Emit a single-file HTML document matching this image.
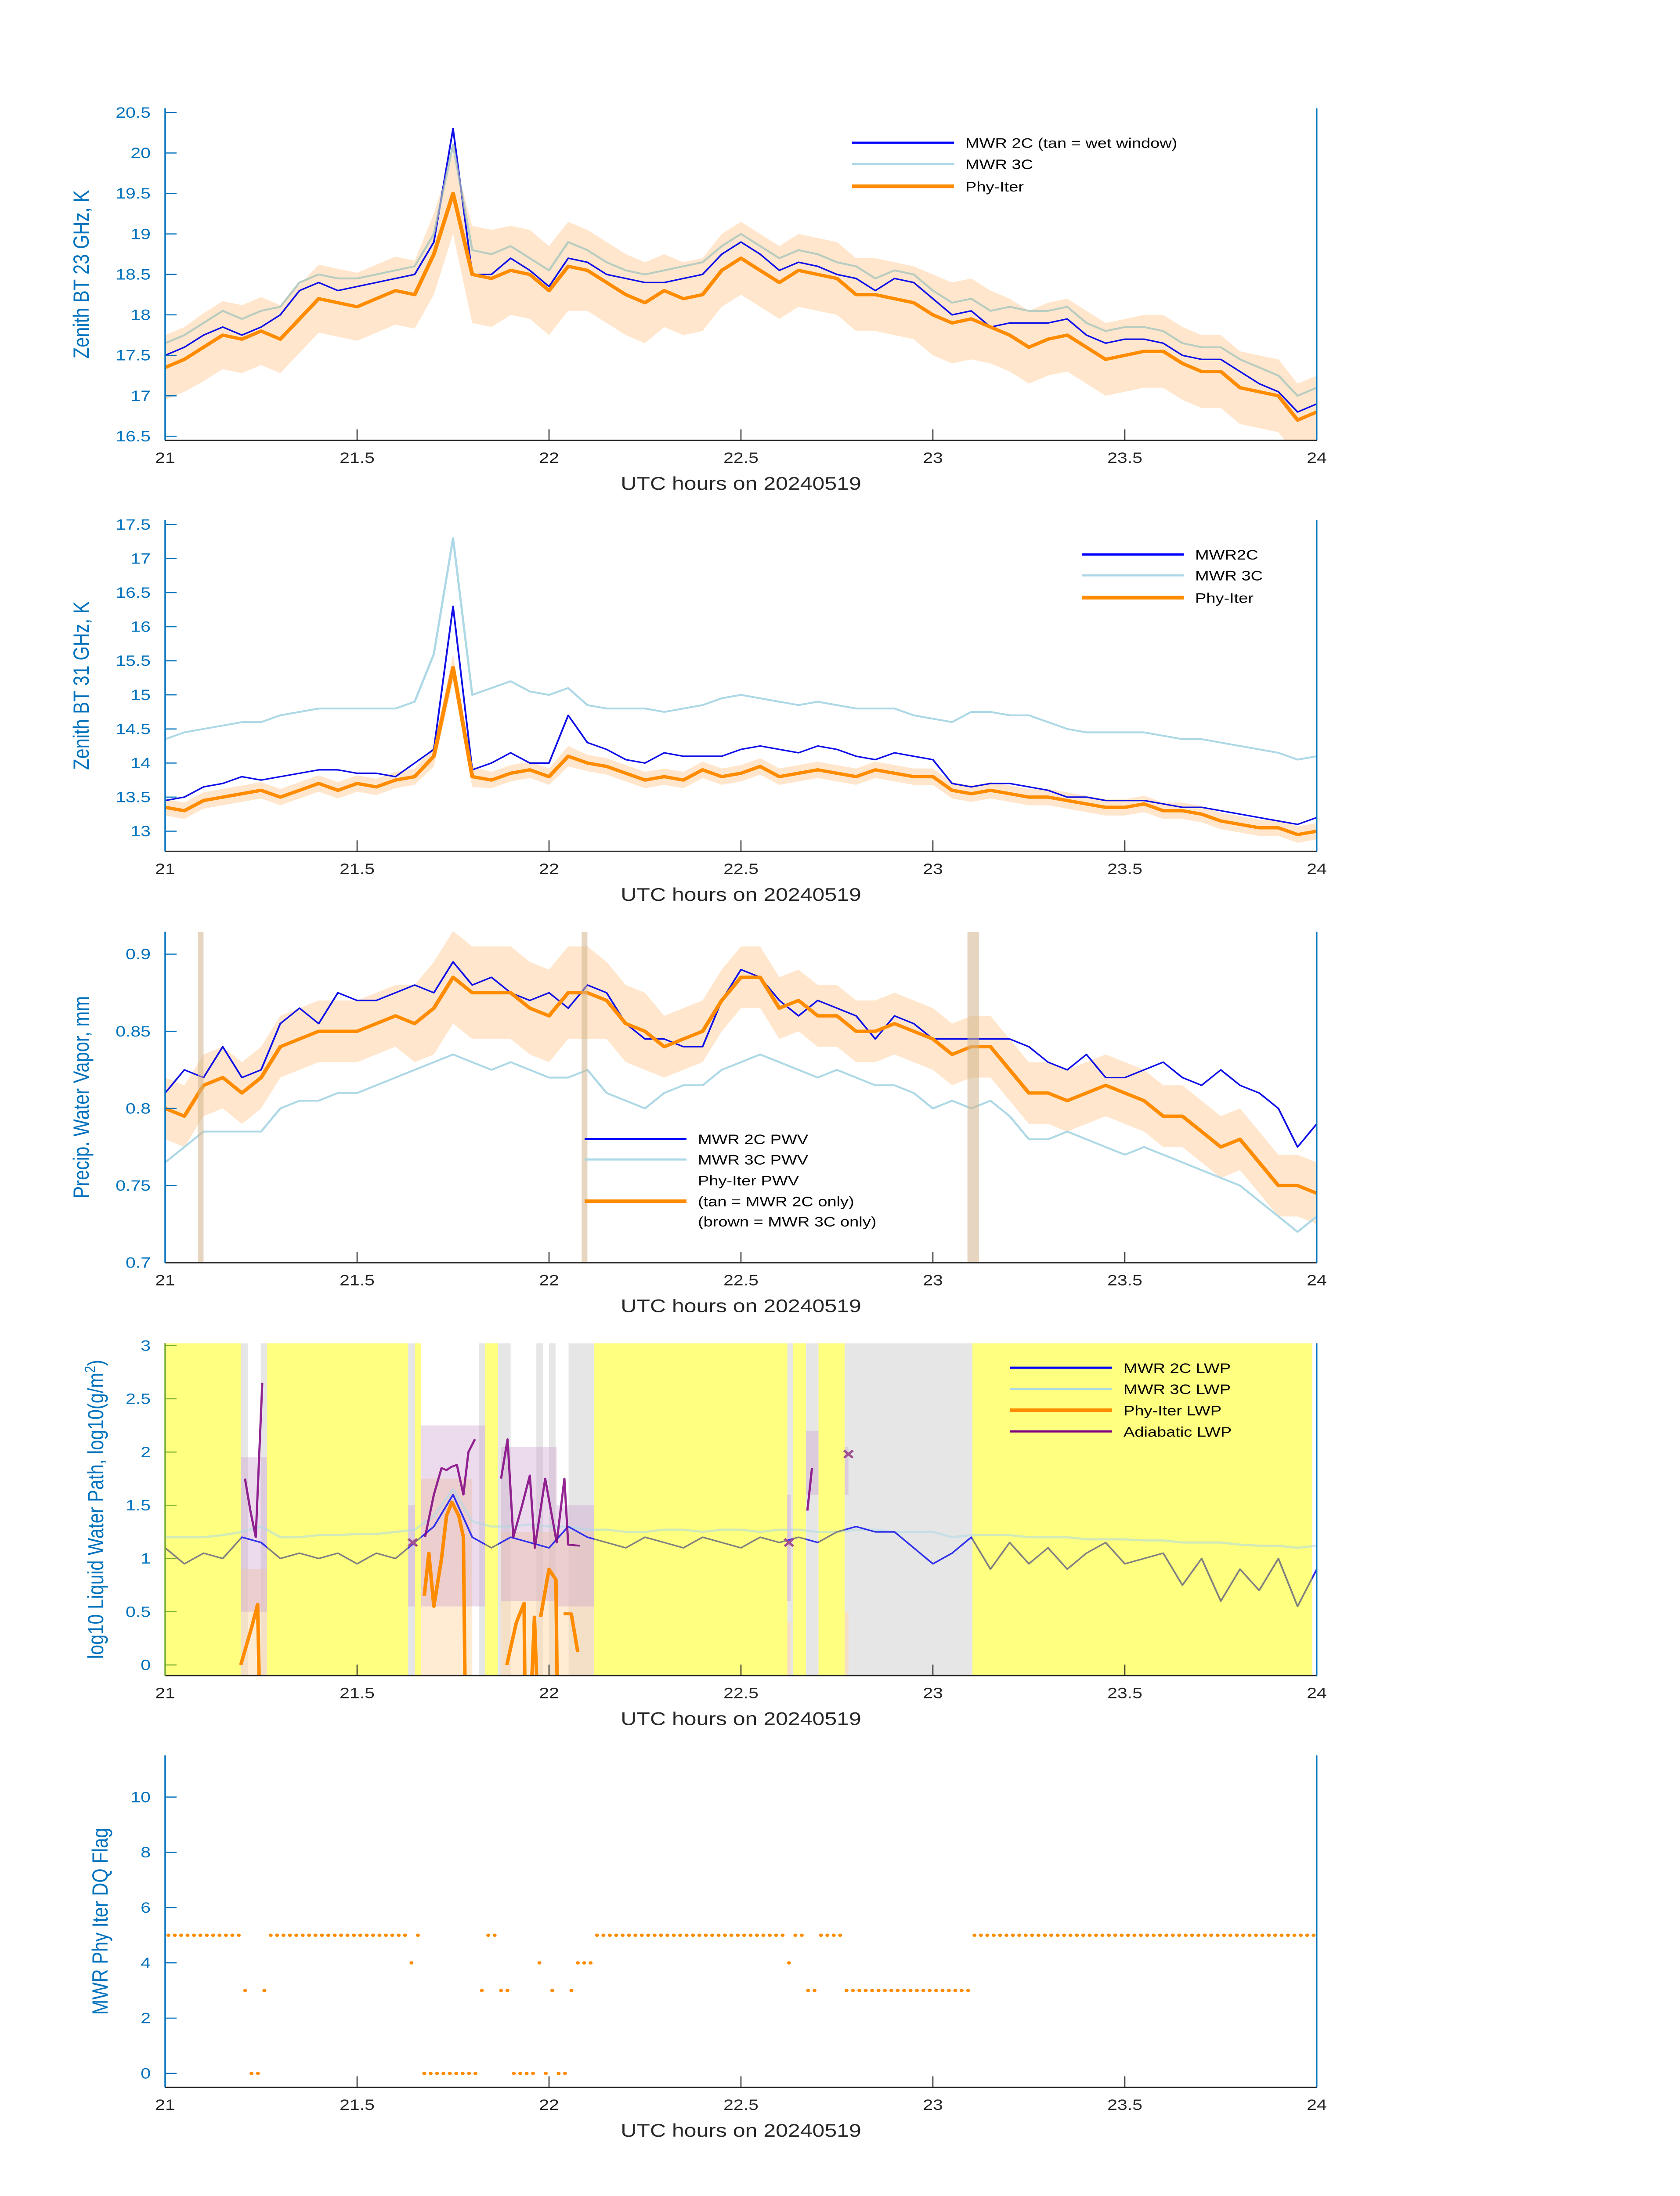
<!DOCTYPE html>
<html><head><meta charset="utf-8"><title>MWR 20240519</title>
<style>
html,body{margin:0;padding:0;background:#fff;width:100%;height:100%;overflow:hidden;}
svg{display:block;position:absolute;left:0;top:0;width:100vw;height:100vh;font-family:"Liberation Sans",sans-serif;}
</style></head>
<body>
<svg id="fig" xmlns="http://www.w3.org/2000/svg" viewBox="0 0 3825 6000" preserveAspectRatio="none">
<rect x="0" y="0" width="3825" height="6000" fill="#ffffff"/>
</svg>
<script>
// ---------- data ----------
const times = [21.00,21.05,21.10,21.15,21.20,21.25,21.30,21.35,21.40,21.45,21.50,21.55,21.60,21.65,21.70,21.75,21.80,21.85,21.90,21.95,22.00,22.05,22.10,22.15,22.20,22.25,22.30,22.35,22.40,22.45,22.50,22.55,22.60,22.65,22.70,22.75,22.80,22.85,22.90,22.95,23.00,23.05,23.10,23.15,23.20,23.25,23.30,23.35,23.40,23.45,23.50,23.55,23.60,23.65,23.70,23.75,23.80,23.85,23.90,23.95,24.00];
const xTicks = [21,21.5,22,22.5,23,23.5,24];
const xTickLabels = ["21","21.5","22","22.5","23","23.5","24"];

const bt23_2c = [17.5,17.6,17.75,17.85,17.75,17.85,18.0,18.3,18.4,18.3, 18.35,18.4,18.45,18.5,18.9,20.3,18.5,18.5,18.7,18.55, 18.35,18.7,18.65,18.5,18.45,18.4,18.4,18.45,18.5,18.75, 18.9,18.75,18.55,18.65,18.6,18.5,18.45,18.3,18.45,18.4, 18.2,18.0,18.05,17.85,17.9,17.9,17.9,17.95,17.75,17.65, 17.7,17.7,17.65,17.5,17.45,17.45,17.3,17.15,17.05,16.8,16.9];
const bt23_3c = [17.65,17.75,17.9,18.05,17.95,18.05,18.1,18.4,18.5,18.45, 18.45,18.5,18.55,18.6,19.0,20.1,18.8,18.75,18.85,18.7, 18.55,18.9,18.8,18.65,18.55,18.5,18.55,18.6,18.65,18.85, 19.0,18.85,18.7,18.8,18.75,18.65,18.6,18.45,18.55,18.5, 18.3,18.15,18.2,18.05,18.1,18.05,18.05,18.1,17.9,17.8, 17.85,17.85,17.8,17.65,17.6,17.6,17.45,17.35,17.25,17.0,17.1];
const bt23_phy = [17.35,17.45,17.6,17.75,17.7,17.8,17.7,17.95,18.2,18.15, 18.1,18.2,18.3,18.25,18.75,19.5,18.5,18.45,18.55,18.5, 18.3,18.6,18.55,18.4,18.25,18.15,18.3,18.2,18.25,18.55, 18.7,18.55,18.4,18.55,18.5,18.45,18.25,18.25,18.2,18.15, 18.0,17.9,17.95,17.85,17.75,17.6,17.7,17.75,17.6,17.45, 17.5,17.55,17.55,17.4,17.3,17.3,17.1,17.05,17.0,16.7,16.8];
const bt23_unc = [0.4,0.4,0.42,0.42,0.42,0.42,0.42,0.42,0.42,0.42, 0.42,0.42,0.42,0.42,0.5,0.5,0.6,0.6,0.55,0.55, 0.55,0.55,0.5,0.5,0.5,0.5,0.45,0.45,0.45,0.45, 0.45,0.45,0.45,0.45,0.45,0.45,0.45,0.45,0.45,0.45, 0.5,0.5,0.5,0.45,0.45,0.45,0.45,0.45,0.45,0.45, 0.45,0.45,0.45,0.45,0.45,0.45,0.45,0.45,0.45,0.45,0.45];
const bt23_ticks = [16.5,17,17.5,18,18.5,19,19.5,20,20.5];

const bt31_2c = [13.45,13.5,13.65,13.7,13.8,13.75,13.8,13.85,13.9,13.9, 13.85,13.85,13.8,14.0,14.2,16.3,13.9,14.0,14.15,14.0, 14.0,14.7,14.3,14.2,14.05,14.0,14.15,14.1,14.1,14.1, 14.2,14.25,14.2,14.15,14.25,14.2,14.1,14.05,14.15,14.1, 14.05,13.7,13.65,13.7,13.7,13.65,13.6,13.5,13.5,13.45, 13.45,13.45,13.4,13.35,13.35,13.3,13.25,13.2,13.15,13.1,13.2];
const bt31_3c = [14.35,14.45,14.5,14.55,14.6,14.6,14.7,14.75,14.8,14.8, 14.8,14.8,14.8,14.9,15.6,17.3,15.0,15.1,15.2,15.05, 15.0,15.1,14.85,14.8,14.8,14.8,14.75,14.8,14.85,14.95, 15.0,14.95,14.9,14.85,14.9,14.85,14.8,14.8,14.8,14.7, 14.65,14.6,14.75,14.75,14.7,14.7,14.6,14.5,14.45,14.45, 14.45,14.45,14.4,14.35,14.35,14.3,14.25,14.2,14.15,14.05,14.1];
const bt31_phy = [13.35,13.3,13.45,13.5,13.55,13.6,13.5,13.6,13.7,13.6, 13.7,13.65,13.75,13.8,14.1,15.4,13.8,13.75,13.85,13.9, 13.8,14.1,14.0,13.95,13.85,13.75,13.8,13.75,13.9,13.8, 13.85,13.95,13.8,13.85,13.9,13.85,13.8,13.9,13.85,13.8, 13.8,13.6,13.55,13.6,13.55,13.5,13.5,13.45,13.4,13.35, 13.35,13.4,13.3,13.3,13.25,13.15,13.1,13.05,13.05,12.95,13.0];
const bt31_unc = [0.12,0.12,0.12,0.12,0.12,0.12,0.12,0.12,0.12,0.12, 0.12,0.12,0.12,0.12,0.15,0.2,0.15,0.12,0.12,0.12, 0.12,0.15,0.12,0.12,0.12,0.12,0.12,0.12,0.12,0.12, 0.12,0.12,0.12,0.12,0.12,0.12,0.12,0.12,0.12,0.12, 0.12,0.12,0.12,0.12,0.12,0.12,0.12,0.12,0.12,0.12, 0.12,0.12,0.12,0.12,0.12,0.12,0.12,0.12,0.12,0.12,0.12];
const bt31_ticks = [13,13.5,14,14.5,15,15.5,16,16.5,17,17.5];

const pwv_2c = [0.81,0.825,0.82,0.84,0.82,0.825,0.855,0.865,0.855,0.875, 0.87,0.87,0.875,0.88,0.875,0.895,0.88,0.885,0.875,0.87, 0.875,0.865,0.88,0.875,0.855,0.845,0.845,0.84,0.84,0.87, 0.89,0.885,0.87,0.86,0.87,0.865,0.86,0.845,0.86,0.855, 0.845,0.845,0.845,0.845,0.845,0.84,0.83,0.825,0.835,0.82, 0.82,0.825,0.83,0.82,0.815,0.825,0.815,0.81,0.8,0.775,0.79];
const pwv_3c = [0.765,0.775,0.785,0.785,0.785,0.785,0.8,0.805,0.805,0.81, 0.81,0.815,0.82,0.825,0.83,0.835,0.83,0.825,0.83,0.825, 0.82,0.82,0.825,0.81,0.805,0.8,0.81,0.815,0.815,0.825, 0.83,0.835,0.83,0.825,0.82,0.825,0.82,0.815,0.815,0.81, 0.8,0.805,0.8,0.805,0.795,0.78,0.78,0.785,0.78,0.775, 0.77,0.775,0.77,0.765,0.76,0.755,0.75,0.74,0.73,0.72,0.73];
const pwv_phy = [0.8,0.795,0.815,0.82,0.81,0.82,0.84,0.845,0.85,0.85, 0.85,0.855,0.86,0.855,0.865,0.885,0.875,0.875,0.875,0.865, 0.86,0.875,0.875,0.87,0.855,0.85,0.84,0.845,0.85,0.87, 0.885,0.885,0.865,0.87,0.86,0.86,0.85,0.85,0.855,0.85, 0.845,0.835,0.84,0.84,0.825,0.81,0.81,0.805,0.81,0.815, 0.81,0.805,0.795,0.795,0.785,0.775,0.78,0.765,0.75,0.75,0.745];
const pwv_unc = [0.02,0.02,0.02,0.02,0.02,0.02,0.02,0.02,0.02,0.02, 0.02,0.02,0.02,0.025,0.03,0.03,0.03,0.03,0.03,0.03, 0.03,0.03,0.03,0.025,0.025,0.025,0.02,0.02,0.02,0.02, 0.02,0.02,0.02,0.02,0.02,0.02,0.02,0.02,0.02,0.02, 0.02,0.02,0.02,0.02,0.02,0.02,0.02,0.02,0.02,0.02, 0.02,0.02,0.02,0.02,0.02,0.02,0.02,0.02,0.02,0.02,0.02];
const pwv_ticks = [0.7,0.75,0.8,0.85,0.9];
const pwvBarStart = [21.085,22.085,23.09];
const pwvBarEnd   = [21.10,22.10,23.12];

const lwp2c = [1.1,0.95,1.05,1.0,1.2,1.15,1.0,1.05,1.0,1.05, 0.95,1.05,1.0,1.15,1.3,1.6,1.2,1.1,1.2,1.15, 1.1,1.3,1.2,1.15,1.1,1.2,1.15,1.1,1.2,1.15, 1.1,1.2,1.15,1.2,1.15,1.25,1.3,1.25,1.25,1.1, 0.95,1.05,1.2,0.9,1.15,0.95,1.1,0.9,1.05,1.15, 0.95,1.0,1.05,0.75,1.0,0.6,0.9,0.7,1.0,0.55,0.9];
const lwp3c = [1.2,1.2,1.2,1.22,1.25,1.3,1.2,1.2,1.22,1.22, 1.23,1.23,1.25,1.27,1.4,1.65,1.35,1.3,1.3,1.32, 1.3,1.3,1.27,1.27,1.25,1.25,1.27,1.27,1.25,1.27, 1.27,1.25,1.27,1.27,1.25,1.25,1.27,1.27,1.25,1.25, 1.25,1.2,1.22,1.22,1.22,1.2,1.2,1.2,1.18,1.18, 1.18,1.17,1.17,1.15,1.15,1.15,1.13,1.12,1.12,1.1,1.12];
const phyT = [21.197,21.225,21.241,21.245,null,21.675,21.687,21.70,21.72,21.733,21.747,21.765,21.777,21.781,null,21.89,21.915,21.935,21.937,null,21.955,21.962,21.968,null,21.978,22.0,22.018,22.021,null,22.038,22.058,22.075];
const phyV = [0,0.35,0.57,-0.15,null,0.65,1.05,0.55,1.0,1.4,1.53,1.4,1.2,-0.15,null,0,0.4,0.58,-0.15,null,-0.15,0.45,-0.15,null,0.45,0.9,0.8,-0.15,null,0.48,0.48,0.12];
const adT = [21.208,21.222,21.236,21.253,null,21.677,21.70,21.72,21.733,21.745,21.76,21.777,21.79,21.807,null,21.875,21.892,21.907,21.93,21.95,21.963,21.99,22.02,22.04,22.05,22.08,null,22.673,22.685];
const adV = [1.75,1.45,1.2,2.65,null,1.2,1.6,1.85,1.83,1.86,1.88,1.6,2.0,2.12,null,1.75,2.12,1.2,1.5,1.78,1.1,1.75,1.15,1.75,1.13,1.12,null,1.45,1.85];
const markT = [21.645,22.625,22.78];
const markV = [1.15,1.15,1.98];
const skyStart = [21.0,21.198,21.216,21.249,21.265,21.633,21.651,21.667,21.817,21.834,21.867,21.900,21.967,21.985,22.0,22.017,22.051,22.117,22.621,22.635,22.669,22.702,22.770,23.103,23.988];
const skyEnd   = [21.198,21.216,21.249,21.265,21.633,21.651,21.667,21.817,21.834,21.867,21.900,21.967,21.985,22.0,22.017,22.051,22.117,22.621,22.635,22.669,22.702,22.770,23.103,23.988,24.0];
const skyKind  = ["clear","grey","white","grey","clear","grey","clear","white","grey","clear","grey","white","grey","white","grey","white","grey","clear","grey","clear","grey","clear","grey","clear","white"];
const tanStart = [21.198,21.667,21.875,22.62,22.77];
const tanEnd   = [21.265,21.80,22.117,22.63,22.78];
const tanLo    = [-0.1,-0.1,-0.1,-0.1,-0.1];
const tanHi    = [0.9,1.75,1.25,0.4,0.5];
const purStart = [21.198,21.633,21.667,21.875,22.02,22.62,22.669,22.77];
const purEnd   = [21.265,21.651,21.834,22.02,22.117,22.63,22.702,22.78];
const purLo    = [0.5,0.55,0.55,0.6,0.55,0.6,1.6,1.6];
const purHi    = [1.95,1.5,2.25,2.05,1.5,1.6,2.2,2.05];
const lwp_ticks = [0,0.5,1,1.5,2,2.5,3];

const flagMinutes = "555555555555" + "3" + "00" + "3" + "5555555555555555555555" + "4" + "5" + "000000000" + "3" + "55" + "33" + "0000" + "4" + "0" + "3" + "00" + "3" + "444" + "555555555555555555555555555555" + "4" + "55" + "33" + "5555" + "33333333333333333333" + "555555555555555555555555555555555555555555555555555555";
const flag_ticks = [0,2,4,6,8,10];

// ---------- layout ----------
const NS = "http://www.w3.org/2000/svg";
const svg = document.getElementById("fig");
const X0 = 376, PXH = 874, XR = 2998;
function xs(t){ return X0 + (t-21)*PXH; }
function mk(tag, attrs, parent){
  const e = document.createElementNS(NS, tag);
  for (const k in attrs) e.setAttribute(k, attrs[k]);
  (parent||svg).appendChild(e);
  return e;
}
const BLUE_AX = "#0072BD", DARK = "#262626";
const panels = [
  {id:"bt23", top:296, bot:1203, v0:16.5, p0:1192, v1:20.5, p1:307.5, ticks:bt23_ticks, title:"Zenith BT 23 GHz, K", tx:202},
  {id:"bt31", top:1421, bot:2326, v0:13, p0:2271, v1:17.5, p1:1433, ticks:bt31_ticks, title:"Zenith BT 31 GHz, K", tx:202},
  {id:"pwv", top:2546, bot:3450, v0:0.7, p0:3450, v1:0.9, p1:2607, ticks:pwv_ticks, title:"Precip. Water Vapor, mm", tx:202},
  {id:"lwp", top:3670, bot:4578, v0:0, p0:4549, v1:3, p1:3676.5, ticks:lwp_ticks, title:"", tx:235},
  {id:"flag", top:4796, bot:5703, v0:0, p0:5665, v1:10, p1:4910, ticks:flag_ticks, title:"MWR Phy Iter DQ Flag", tx:245}
];
function yScale(p){ return v => p.p0 + (v-p.v0)*(p.p1-p.p0)/(p.v1-p.v0); }

function pathFrom(ts, vs, sy){
  let d = "", pen = false;
  for (let i=0;i<ts.length;i++){
    if (ts[i]===null || vs[i]===null){ pen=false; continue; }
    d += (pen?"L":"M") + xs(ts[i]).toFixed(1) + "," + sy(vs[i]).toFixed(1);
    pen = true;
  }
  return d;
}
function bandFrom(ts, mid, unc, sy){
  let up="", lo="";
  for (let i=0;i<ts.length;i++){
    up += (i?"L":"M") + xs(ts[i]).toFixed(1) + "," + sy(mid[i]+unc[i]).toFixed(1);
  }
  for (let i=ts.length-1;i>=0;i--){
    lo += "L" + xs(ts[i]).toFixed(1) + "," + sy(mid[i]-unc[i]).toFixed(1);
  }
  return up + lo + "Z";
}

function drawAxes(p){
  const g = mk("g", {});
  
  
  const sy = yScale(p);
  const tickCol = p.id==="lwp" ? "#77AC30" : BLUE_AX;
  p.ticks.forEach(v => {
    const y = sy(v);
    const tl = mk("line", {x1:X0, x2:X0+26, y1:y, y2:y, stroke:tickCol, "stroke-width":3}, g);
    
    
    const lab = mk("text", {x:343, y:y+14, "text-anchor":"end", "font-size":41, fill:BLUE_AX}, g);
    lab.textContent = String(v);
    
    
  });
  xTicks.forEach((t,i) => {
    const x = xs(t);
    const tl = mk("line", {x1:x, x2:x, y1:p.bot, y2:p.bot-30, stroke:DARK, "stroke-width":2.5}, g);
    
    
    const lab = mk("text", {x:x, y:p.bot+62, "text-anchor":"middle", "font-size":41, fill:DARK}, g);
    lab.textContent = xTickLabels[i];
    
    
  });
  const xa = mk("line", {x1:X0, x2:XR, y1:p.bot, y2:p.bot, stroke:DARK, "stroke-width":3.5}, g);
  
  
  const ya = mk("line", {x1:X0, x2:X0, y1:p.top, y2:p.bot, stroke:p.id==="lwp"?"#77AC30":BLUE_AX, "stroke-width":3.5}, g);
  
  
  const ra = mk("line", {x1:XR, x2:XR, y1:p.top, y2:p.bot, stroke:BLUE_AX, "stroke-width":3}, g);
  
  
  const xt = mk("text", {x:(X0+XR)/2, y:p.bot+135, "text-anchor":"middle", "font-size":50, fill:DARK}, g);
  xt.textContent = "UTC hours on 20240519";
  
  
  const cy = (p.top+p.bot)/2;
  const yt = mk("text", {x:p.tx, y:cy, "text-anchor":"middle", "font-size":50, fill:BLUE_AX, transform:"rotate(-90 "+p.tx+" "+cy+")"}, g);
  
  
  if (p.id==="lwp"){
    yt.textContent = "log10 Liquid Water Path, log10(g/m";
    const sup = mk("tspan", {"baseline-shift":"super", "font-size":34}, yt);
    sup.textContent = "2";
    const cl = mk("tspan", {}, yt);
    cl.textContent = ")";
  } else {
    yt.textContent = p.title;
  }
}
function clipFor(p){
  let defs = svg.querySelector("defs");
  if (!defs) defs = mk("defs", {});
  const cp = mk("clipPath", {id:"clip-"+p.id}, defs);
  mk("rect", {x:X0, y:p.top, width:XR-X0, height:p.bot-p.top}, cp);
  return "url(#clip-"+p.id+")";
}
function seriesLine(g, ts, vs, sy, color, w, name, extra){
  const e = mk("path", Object.assign({d:pathFrom(ts, vs, sy), fill:"none", stroke:color, "stroke-width":w, "stroke-linejoin":"round"}, extra||{}), g);
  
  
  return e;
}
function legend(x, yRows, entries){
  const g = mk("g", {});
  
  
  entries.forEach((en, i) => {
    const y = yRows[i];
    if (en.color){
      const l = mk("line", {x1:x, x2:x+232, y1:y, y2:y, stroke:en.color, "stroke-width":en.w}, g);
      
      
    }
    const t = mk("text", {x:x+258, y:y+14, "font-size":38, fill:"#000"}, g);
    t.textContent = en.label;
    
    
  });
}

function standardPanel(p, s2c, s3c, phy, unc, legendX, legendRows, labels){
  const sy = yScale(p);
  const g = mk("g", {"clip-path":clipFor(p)});
  
  
  const b = mk("path", {d:bandFrom(times, phy, unc, sy), fill:"#FFE6CC", stroke:"none"}, g);
  
  
  seriesLine(g, times, s3c, sy, "#ADD8E6", 5, p.id+"-mwr3c-line", p.id==="bt23"?{opacity:0.85}:{});
  seriesLine(g, times, s2c, sy, "#1010E8", 4, p.id+"-mwr2c-line");
  if (p.id==="bt23") seriesLine(g, times, s3c, sy, "#B8C6B0", 5, p.id+"-mwr3c-overlay", {opacity:0.7});
  seriesLine(g, times, phy, sy, "#FF8C00", 9, p.id+"-phy-iter-line");
  drawAxes(p);
  legend(legendX, legendRows, labels);
  return {g, sy};
}
standardPanel(panels[0], bt23_2c, bt23_3c, bt23_phy, bt23_unc, 1940, [390,448,509],
  [{label:"MWR 2C (tan = wet window)", color:"#0000FF", w:6},{label:"MWR 3C", color:"#ADD8E6", w:6},{label:"Phy-Iter", color:"#FF8C00", w:10}]);
standardPanel(panels[1], bt31_2c, bt31_3c, bt31_phy, bt31_unc, 2463, [1515,1572,1633],
  [{label:"MWR2C", color:"#0000FF", w:6},{label:"MWR 3C", color:"#ADD8E6", w:6},{label:"Phy-Iter", color:"#FF8C00", w:10}]);
(function(){
  const p = panels[2];
  const r = standardPanel(p, pwv_2c, pwv_3c, pwv_phy, pwv_unc, 1331, [3112,3168,3225,3282,3337],
    [{label:"MWR 2C PWV", color:"#0000FF", w:6},{label:"MWR 3C PWV", color:"#ADD8E6", w:6},{label:"Phy-Iter PWV"},{label:"(tan = MWR 2C only)", color:"#FF8C00", w:10},{label:"(brown = MWR 3C only)"}]);
  pwvBarStart.forEach((t0,i) => {
    const bar = mk("rect", {x:xs(t0), y:p.top, width:xs(pwvBarEnd[i])-xs(t0), height:p.bot-p.top, fill:"#D2B48C", opacity:0.55}, r.g);
    
    
  });
})();

(function(){
  const p = panels[3];
  const sy = yScale(p);
  const g = mk("g", {"clip-path":clipFor(p)});
  
  
  const kindCol = {clear:"#FFFF80", grey:"#E6E6E6", white:"#FFFFFF"};
  const defs = svg.querySelector("defs");
  const cloudClip = mk("clipPath", {id:"clip-cloud"}, defs);
  skyStart.forEach((t0,i) => {
    const r = mk("rect", {x:xs(t0), y:p.top, width:xs(skyEnd[i])-xs(t0)+0.5, height:p.bot-p.top, fill:kindCol[skyKind[i]]}, g);
    
    
    if (skyKind[i]!=="clear") mk("rect", {x:xs(t0), y:p.top, width:xs(skyEnd[i])-xs(t0), height:p.bot-p.top}, cloudClip);
  });
  tanStart.forEach((t0,i) => {
    const r = mk("rect", {x:xs(t0), y:sy(tanHi[i]), width:xs(tanEnd[i])-xs(t0), height:sy(tanLo[i])-sy(tanHi[i])+40, fill:"#FFD9A8", opacity:0.5}, g);
    
    
  });
  purStart.forEach((t0,i) => {
    const r = mk("rect", {x:xs(t0), y:sy(purHi[i]), width:xs(purEnd[i])-xs(t0), height:sy(purLo[i])-sy(purHi[i]), fill:"#C898C8", opacity:0.35}, g);
    
    
  });
  seriesLine(g, times, lwp3c, sy, "#ADD8E6", 6, "lwp-mwr3c-line", {opacity:0.55});
  seriesLine(g, times, lwp2c, sy, "#808080", 4, "lwp-mwr2c-clear-line");
  seriesLine(g, times, lwp2c, sy, "#3030F0", 4, "lwp-mwr2c-cloud-line", {"clip-path":"url(#clip-cloud)"});
  seriesLine(g, adT, adV, sy, "#800080", 5, "adiabatic-lwp-line", {opacity:0.85});
  seriesLine(g, phyT, phyV, sy, "#FF8C00", 8, "phy-iter-lwp-line");
  markT.forEach((t,i) => {
    const x = xs(t), y = sy(markV[i]);
    const m = mk("path", {d:`M${x-10},${y-10}L${x+10},${y+10}M${x-10},${y+10}L${x+10},${y-10}`, stroke:"#A05090", "stroke-width":6, fill:"none"}, g);
    
    
  });
  drawAxes(p);
  legend(2300, [3737,3795,3853,3911],
    [{label:"MWR 2C LWP", color:"#0000FF", w:6},{label:"MWR 3C LWP", color:"#ADD8E6", w:6},{label:"Phy-Iter LWP", color:"#FF8C00", w:10},{label:"Adiabatic LWP", color:"#800080", w:6}]);
})();

(function(){
  const p = panels[4];
  const sy = yScale(p);
  const g = mk("g", {});
  
  
  for (let m=0; m<flagMinutes.length; m++){
    const v = Number(flagMinutes[m]);
    const c = mk("ellipse", {cx:xs(21+(m+0.5)/60), cy:sy(v), rx:4.5, ry:4.5, fill:"#FF8C00"}, g);
    
    
  }
  drawAxes(p);
})();
</script>
</body></html>
